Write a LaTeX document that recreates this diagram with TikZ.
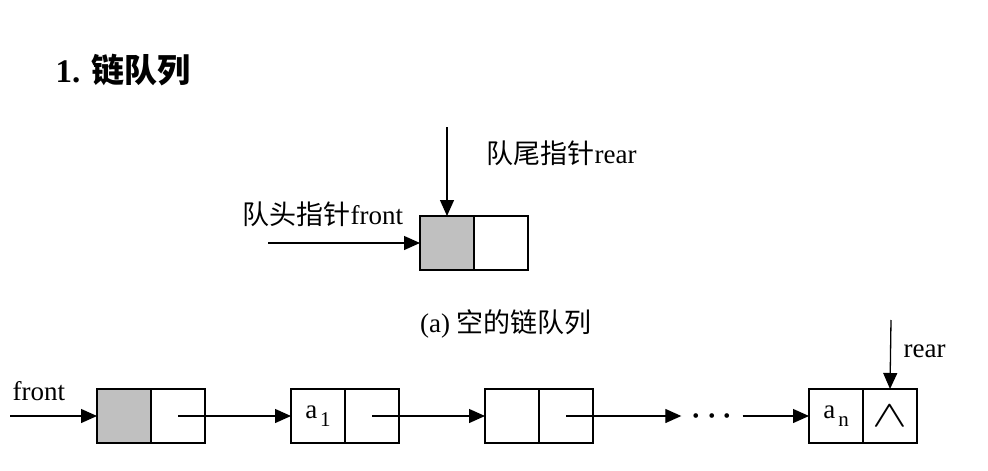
\documentclass[tikz,border=0pt]{standalone}
\usepackage{fontspec}
\setmainfont{Liberation Serif}
\newfontfamily\cjk{Noto Sans CJK SC}
\usepackage{graphicx}
\usepackage{tikz}
\usetikzlibrary{positioning, arrows.meta}
\definecolor{nodegray}{RGB}{192,192,192}
\newcommand{\elem}[1]{a\kern3pt\raisebox{-8pt}{\fontsize{21}{21}\selectfont #1}}

\begin{document}
\begin{tikzpicture}[x=1pt, y=-1pt, >={Triangle[length=16pt, width=14pt]},
        every node/.style={font=\fontsize{27}{27}\selectfont},
        cell/.style={draw, line width=1.3pt, minimum width=54pt, minimum height=54pt,
            inner sep=0pt, outer sep=0pt},
        head/.style={cell, fill=nodegray},
        link/.style={->, line width=1.3pt}]
      \useasboundingbox (0,0) rectangle (988,471);
      % title
      \node[anchor=west, font=\fontsize{33}{33}\selectfont\bfseries] (title) at (52,70) {1. {\cjk 链队列}};

      % (a) empty queue
      \node[head] (qd) at (447,243) {};
      \node[cell, right=0pt of qd] (qp) {};
      \coordinate (qrear) at (447,127);
      \coordinate (qfront) at (268,243);
      \draw[link] (qrear) -- (qd.north);
      \draw[link] (qfront) -- (qd.west);
      \node[anchor=west] (qrearlbl) at (483,153) {{\cjk 队尾指针}rear};
      \node[anchor=west] (qfrontlbl) at (239,214) {{\cjk 队头指针}front};
      \node (caption) at (506,324) {(a) {\cjk 空的链队列}};

      % non-empty queue
      \node[head] (d0) at (124,416) {};
      \node[cell, right=0pt of d0] (p0) {};
      \node[cell, right=86pt of p0] (d1) {\elem{1}};
      \node[cell, right=0pt of d1] (p1) {};
      \node[cell, right=86pt of p1] (d2) {};
      \node[cell, right=0pt of d2] (p2) {};
      \node[inner sep=0pt, minimum width=61pt] (dots) at (712,416) {\scalebox{1.2}{\boldmath$\cdots$}};
      \node[cell, right=216pt of p2] (dn) {\elem{n}};
      \node[cell, right=0pt of dn] (pn) {\raisebox{-2pt}{\scalebox{2.1}[1.5]{$\wedge$}}};
      \coordinate (front) at (10,416);
      \coordinate (rear) at (891,320);
      \draw[link] (front) -- (d0.west);
      \draw[link] (p0.center) -- (d1.west);
      \draw[link] (p1.center) -- (d2.west);
      \draw[link] (p2.center) -- (dots.west);
      \draw[link] (dots.east) -- (dn.west);
      \draw[link] (rear) -- (pn.north);
      \node[anchor=west] (frontlbl) at (9,391) {front};
      \node[anchor=west] (rearlbl) at (900,351) {rear};
\end{tikzpicture}
\end{document}
